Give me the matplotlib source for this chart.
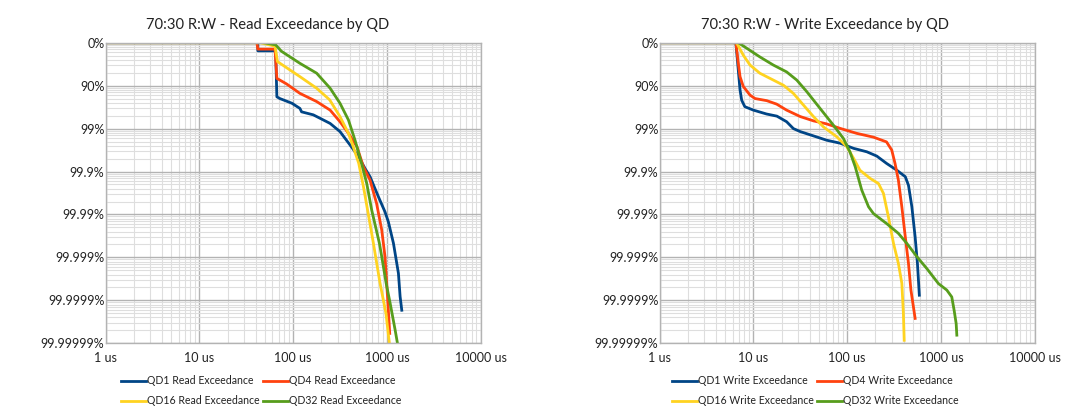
import numpy as np
import matplotlib
matplotlib.use("Agg")
import matplotlib.pyplot as plt
from matplotlib.ticker import FixedLocator, NullFormatter, LogLocator

plt.rcParams['font.family'] = ['Lato', 'DejaVu Sans']

# ---- data: latency (us) and depth in "nines" (0 = 0%, 1 = 90%, 2 = 99% ...) ----
read_qd1_us = [1, 42, 42, 65, 67, 72, 97, 118, 123, 164, 248, 316, 404, 497, 585, 661, 813, 955, 1037, 1175, 1328, 1384, 1442]
read_qd1_n  = [0, 0, 0.19, 0.19, 1.26, 1.30, 1.41, 1.53, 1.61, 1.68, 1.88, 2.07, 2.38, 2.65, 2.93, 3.12, 3.59, 3.94, 4.17, 4.67, 5.37, 5.91, 6.23]

read_qd4_us = [1, 41, 42, 64, 67, 72, 85, 118, 178, 248, 316, 389, 479, 562, 661, 776, 881, 955, 995, 1037, 1072]
read_qd4_n  = [0, 0, 0.15, 0.15, 0.83, 0.87, 0.96, 1.18, 1.37, 1.57, 1.84, 2.11, 2.42, 2.89, 3.20, 3.74, 4.36, 4.98, 5.60, 6.23, 6.77]

read_qd16_us = [1, 44, 64, 68, 118, 178, 245, 316, 389, 437, 501, 562, 631, 718, 845, 977, 1064]
read_qd16_n  = [0, 0, 0.08, 0.44, 0.79, 1.06, 1.33, 1.72, 2.11, 2.42, 2.81, 3.35, 3.97, 4.67, 5.60, 6.30, 7.00]

read_qd32_us = [1, 48, 65, 75, 118, 178, 248, 316, 389, 457, 537, 610, 689, 832, 881, 982, 1084, 1225, 1297]
read_qd32_n  = [0, 0, 0.05, 0.20, 0.48, 0.71, 1.06, 1.41, 1.80, 2.27, 2.81, 3.28, 3.90, 4.67, 4.98, 5.60, 6.07, 6.69, 7.00]

write_qd1_us = [1, 6.5, 6.9, 7.2, 7.5, 8.1, 10, 13.8, 17.8, 22.6, 26.7, 31.6, 43.7, 60.3, 84.1, 117, 162, 207, 263, 339, 417, 451, 490, 531, 562, 589]
write_qd1_n  = [0, 0, 0.64, 1.10, 1.34, 1.49, 1.57, 1.66, 1.71, 1.84, 2.00, 2.07, 2.17, 2.27, 2.34, 2.46, 2.54, 2.64, 2.81, 2.97, 3.12, 3.32, 3.82, 4.52, 5.14, 5.88]

write_qd4_us = [1, 6.5, 6.9, 7.2, 7.8, 9.2, 10.4, 13.9, 17.7, 22.6, 31.6, 43.7, 60.3, 84.1, 126, 191, 263, 299, 324, 352, 383, 417, 451, 479, 531]
write_qd4_n  = [0, 0, 0.48, 0.79, 1.02, 1.22, 1.30, 1.35, 1.43, 1.57, 1.72, 1.82, 1.89, 1.995, 2.11, 2.20, 2.31, 2.50, 2.81, 3.20, 3.82, 4.52, 5.14, 5.76, 6.42]

write_qd16_us = [1, 6.6, 7.8, 9.2, 11.7, 16.3, 20.9, 26.7, 34.1, 43.7, 55.8, 77.4, 99, 117, 137, 176, 216, 244, 275, 312, 352, 383, 398, 406]
write_qd16_n  = [0, 0, 0.29, 0.52, 0.71, 0.87, 0.99, 1.18, 1.45, 1.72, 1.96, 2.19, 2.42, 2.69, 2.97, 3.16, 3.28, 3.51, 4.05, 4.67, 5.14, 5.60, 6.30, 6.93]

write_qd32_us = [1, 6.9, 8.5, 11.7, 16.3, 22.6, 29, 37.1, 51.4, 71.3, 91.2, 107, 122, 143, 169, 191, 263, 352, 432, 553, 708, 942, 1156, 1306, 1384, 1455, 1479]
write_qd32_n  = [0, 0, 0.13, 0.33, 0.52, 0.68, 0.87, 1.14, 1.53, 1.92, 2.23, 2.54, 2.89, 3.43, 3.82, 3.98, 4.21, 4.44, 4.67, 4.98, 5.26, 5.61, 5.76, 5.92, 6.23, 6.54, 6.81]

x_ticks = [1, 10, 100, 1000, 10000]
x_labels = ["1 us", "10 us", "100 us", "1000 us", "10000 us"]
y_labels = ["0%", "90%", "99%", "99.9%", "99.99%", "99.999%", "99.9999%", "99.99999%"]

colors = ["#004586", "#ff420e", "#ffd320", "#579d1c"]
qd_names = ["QD1", "QD4", "QD16", "QD32"]

fig = plt.figure(figsize=(10.8, 4.17), dpi=100)
axL = fig.add_axes([0.0979, 0.1767, 0.3471, 0.7209])
axR = fig.add_axes([0.6108, 0.1767, 0.3472, 0.7209])

read_sets = [(read_qd1_us, read_qd1_n), (read_qd4_us, read_qd4_n),
             (read_qd16_us, read_qd16_n), (read_qd32_us, read_qd32_n)]
write_sets = [(write_qd1_us, write_qd1_n), (write_qd4_us, write_qd4_n),
              (write_qd16_us, write_qd16_n), (write_qd32_us, write_qd32_n)]

for (xs, ns), c, q in zip(read_sets, colors, qd_names):
    axL.plot(xs, 10.0 ** (-np.array(ns)), color=c, lw=2.0, label=f"{q} Read Exceedance")
for (xs, ns), c, q in zip(write_sets, colors, qd_names):
    axR.plot(xs, 10.0 ** (-np.array(ns)), color=c, lw=2.0, label=f"{q} Write Exceedance")

def style(ax, title, title_x):
    ax.set_xscale('log')
    ax.set_yscale('log')
    ax.xaxis.set_major_locator(FixedLocator(x_ticks))
    ax.set_xticklabels(x_labels)
    ax.xaxis.set_minor_locator(LogLocator(base=10, subs=np.arange(2, 10)))
    ax.xaxis.set_minor_formatter(NullFormatter())
    yt = [10.0 ** (-k) for k in range(len(y_labels))]
    ax.yaxis.set_major_locator(FixedLocator(yt))
    ax.set_yticklabels(y_labels)
    ax.yaxis.set_minor_locator(LogLocator(base=10, subs=np.arange(2, 10), numticks=20))
    ax.yaxis.set_minor_formatter(NullFormatter())
    ax.set_xlim(1, 10000)
    ax.set_ylim(1e-7, 1)
    ax.grid(True, which='major', color='#b3b3b3', linewidth=1.0)
    ax.grid(True, which='minor', color='#dedede', linewidth=0.8)
    ax.set_axisbelow(True)
    ax.tick_params(which='both', length=0, labelsize=9, colors='#222222')
    ax.tick_params(axis='y', pad=1)
    ax.tick_params(axis='x', pad=6)
    for s in ax.spines.values():
        s.set_color('#b3b3b3')
        s.set_linewidth(1.0)
    fig.text(title_x / 1080, 1 - 25 / 417, title, ha='center', va='center',
             fontsize=10.6, color='#222222')
    h, l = ax.get_legend_handles_labels()
    order = [0, 2, 1, 3]
    ax.legend([h[i] for i in order], [l[i] for i in order],
              loc='upper center', bbox_to_anchor=(0.415, -0.075), ncol=2, frameon=False,
              fontsize=7.6, handlelength=2.4, handletextpad=0.1, columnspacing=0.3,
              labelspacing=0.85, labelcolor='#222222')

style(axL, "70:30 R:W - Read Exceedance by QD", 268)
style(axR, "70:30 R:W - Write Exceedance by QD", 825)

fig.savefig("out.png", dpi=100)
